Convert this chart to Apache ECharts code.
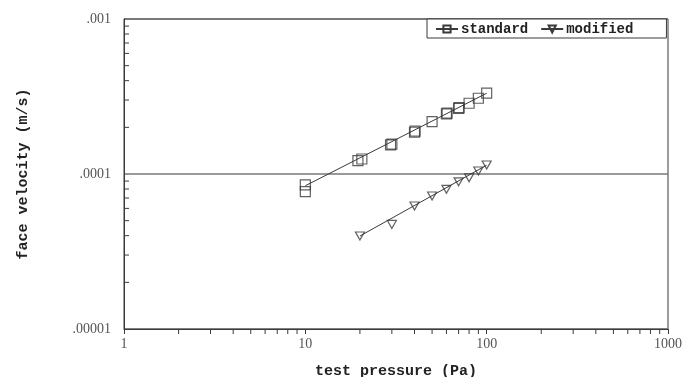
<!DOCTYPE html>
<html>
<head>
<meta charset="utf-8">
<script src="https://cdn.jsdelivr.net/npm/echarts@6/dist/echarts.min.js"></script>
<style>html,body{margin:0;padding:0;background:#fff;}#c{width:682px;height:377px;}</style>
</head>
<body>
<div id="c"></div>
<script>
// ---- data ----
const standardPoints = [
  [10, 8.5e-5], [10, 7.7e-5], [19.5, 1.22e-4], [20.5, 1.25e-4],
  [29.5, 1.54e-4], [30, 1.56e-4], [40, 1.86e-4], [40.3, 1.89e-4],
  [50, 2.18e-4], [60, 2.44e-4], [60.5, 2.47e-4], [70, 2.65e-4],
  [70.5, 2.68e-4], [80, 2.86e-4], [90, 3.08e-4], [100, 3.32e-4]
];
const modifiedPoints = [
  [20, 3.98e-5], [30, 4.73e-5], [40, 6.22e-5], [50, 7.21e-5],
  [60, 7.96e-5], [70, 8.9e-5], [80, 9.46e-5], [90, 1.045e-4], [100, 1.143e-4]
];
const standardFit = [[10, 8.4e-5], [100, 3.32e-4]];
const modifiedFit = [[20, 3.98e-5], [100, 1.14e-4]];

// ---- axes ----
const xMin = 1, xMax = 1000;
const yMin = 1e-5, yMax = 1e-3;
const xTickLabels = ['1', '10', '100', '1000'];
const yTickLabels = ['.00001', '.0001', '.001'];
const xMinorTicks = [2,3,4,5,6,7,8,9, 20,30,40,50,60,70,80,90, 200,300,400,500,600,700,800,900];
const yMinorTicks = [2e-5,3e-5,4e-5,5e-5,6e-5,7e-5,8e-5,9e-5, 2e-4,3e-4,4e-4,5e-4,6e-4,7e-4,8e-4,9e-4];

const ink = '#3a3a3a';
const titleFont = 'Liberation Mono';
const tickFont = 'Liberation Serif';
const sq = 'rect';
const tri = 'path://M0,0 L10,0 L5,9 Z';

const chart = echarts.init(document.getElementById('c'));
chart.setOption({
  animation: false,
  backgroundColor: '#fff',
  grid: { left: 124, top: 19, right: 14, bottom: 48, show: true, borderColor: ink, borderWidth: 1, backgroundColor: 'transparent', outerBoundsMode: 'none', containLabel: false },
  legend: {
    data: ['standard', 'modified'],
    left: 427, top: 19, orient: 'horizontal',
    padding: [3, 33, 2, 8], itemGap: 12, itemWidth: 22, itemHeight: 9,
    borderColor: ink, borderWidth: 1, backgroundColor: '#fff',
    textStyle: { fontFamily: titleFont, fontWeight: 'bold', fontSize: 14, color: '#222', padding: [0, 0, 0, -2] }
  },
  xAxis: {
    type: 'log', logBase: 10, min: xMin, max: xMax,
    name: 'test pressure (Pa)', nameLocation: 'middle', nameGap: 35,
    nameTextStyle: { fontFamily: titleFont, fontWeight: 'bold', fontSize: 15, color: '#222' },
    axisLine: { show: true, lineStyle: { color: ink, width: 1 } },
    axisTick: { show: true, inside: false, length: 5, lineStyle: { color: ink } },
    axisLabel: {
      margin: 8, fontFamily: tickFont, fontSize: 14, color: '#555',
      formatter: v => xTickLabels[Math.round(Math.log10(v))]
    },
    splitLine: { show: false }
  },
  yAxis: {
    type: 'log', logBase: 10, min: yMin, max: yMax,
    name: 'face velocity (m/s)', nameLocation: 'middle', nameGap: 93, nameRotate: 90,
    nameTextStyle: { fontFamily: titleFont, fontWeight: 'bold', fontSize: 15, color: '#222' },
    axisLine: { show: true, lineStyle: { color: ink, width: 1 } },
    axisTick: { show: false },
    axisLabel: {
      margin: 13, fontFamily: tickFont, fontSize: 14, color: '#555',
      formatter: v => yTickLabels[Math.round(Math.log10(v)) + 5]
    },
    splitLine: { show: true, lineStyle: { color: '#777', width: 1.5 } }
  },
  series: [
    {
      name: 'standard', type: 'line', data: standardFit, showSymbol: false,
      symbol: sq, symbolSize: 9,
      lineStyle: { color: ink, width: 1 },
      itemStyle: { color: 'transparent', borderColor: ink, borderWidth: 1.2 },
      z: 3
    },
    {
      name: 'modified', type: 'line', data: modifiedFit, showSymbol: false,
      symbol: tri, symbolSize: [9, 8],
      lineStyle: { color: ink, width: 1 },
      itemStyle: { color: 'transparent', borderColor: ink, borderWidth: 1.2 },
      z: 3
    },
    {
      name: 'standard', type: 'scatter', data: standardPoints,
      symbol: sq, symbolSize: 10,
      itemStyle: { color: 'transparent', borderColor: ink, borderWidth: 1.2 },
      z: 4
    },
    {
      name: 'modified', type: 'scatter', data: modifiedPoints,
      symbol: tri, symbolSize: [9, 8],
      itemStyle: { color: 'transparent', borderColor: ink, borderWidth: 1.2 },
      z: 4
    },
    {
      name: 'xMinor', type: 'custom', silent: true, clip: false,
      data: xMinorTicks.map(v => [v, yMin]),
      encode: { x: 0, y: 1 },
      renderItem: (params, api) => {
        const p = api.coord([api.value(0), api.value(1)]);
        return { type: 'line', shape: { x1: p[0], y1: p[1], x2: p[0], y2: p[1] + 5 }, style: { stroke: ink, lineWidth: 1 } };
      },
      z: 5
    },
    {
      name: 'yMinor', type: 'custom', silent: true, clip: false,
      data: yMinorTicks.map(v => [xMin, v]),
      encode: { x: 0, y: 1 },
      renderItem: (params, api) => {
        const p = api.coord([api.value(0), api.value(1)]);
        return { type: 'line', shape: { x1: p[0], y1: p[1], x2: p[0] + 5, y2: p[1] }, style: { stroke: ink, lineWidth: 1 } };
      },
      z: 5
    }
  ]
});
</script>
</body>
</html>
